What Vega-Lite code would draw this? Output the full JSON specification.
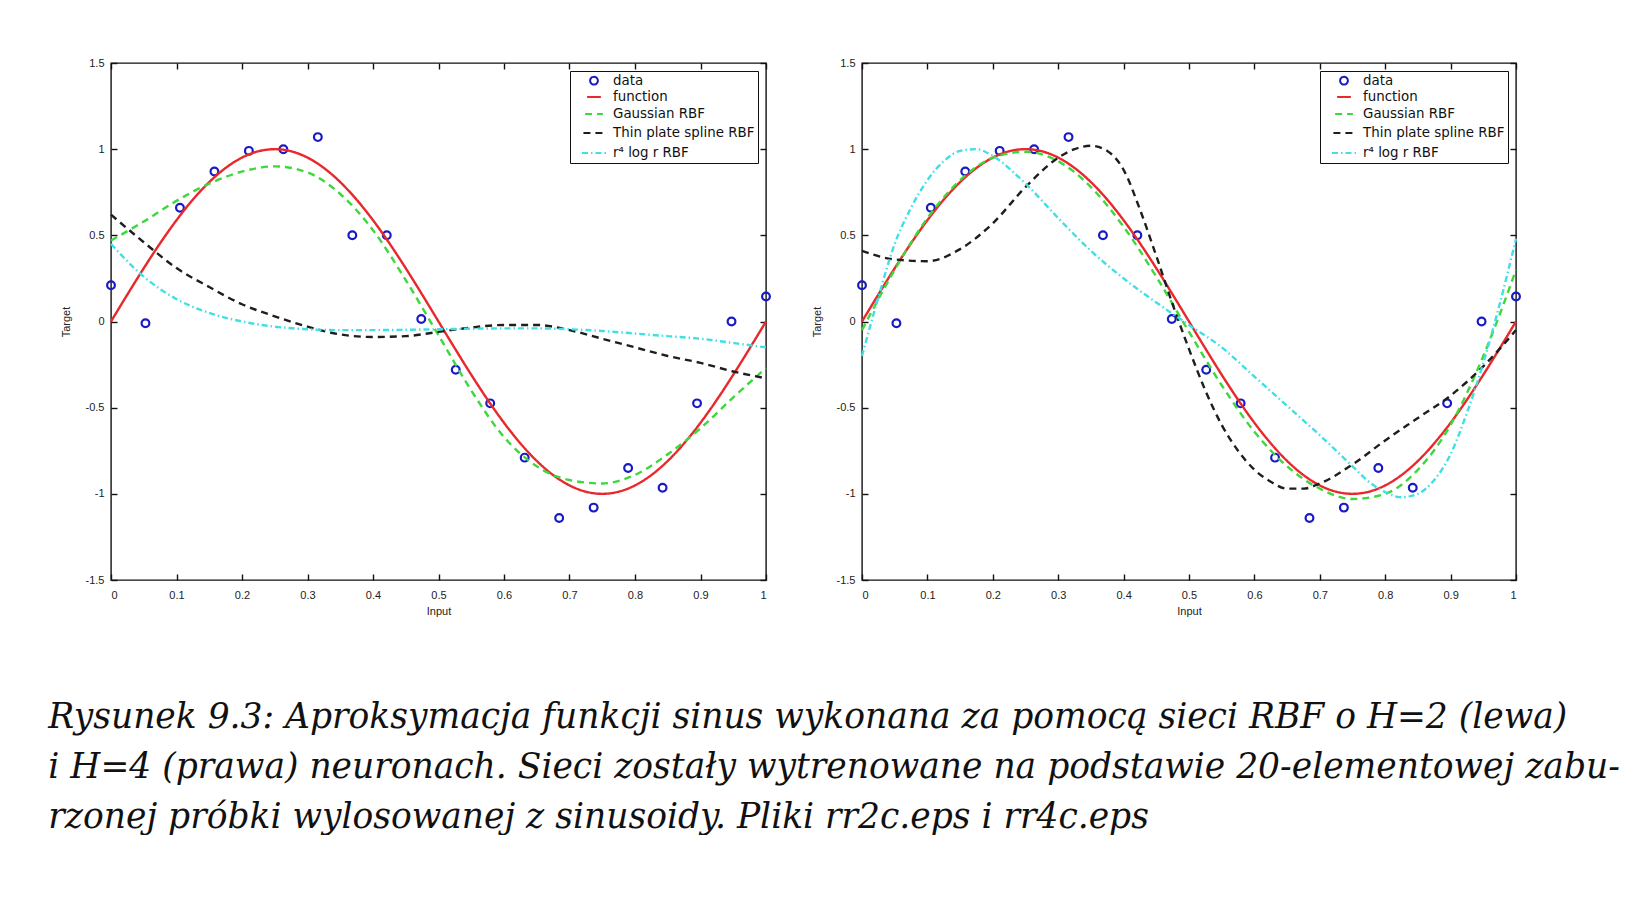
{
  "$schema": "https://vega.github.io/schema/vega-lite/v6.json",
  "background": "white",
  "padding": {"left": 48, "top": 56, "right": 0, "bottom": 0},
  "datasets": {
    "pts": [
      {"x": 0, "y": 0.21, "series": "data"},
      {"x": 0.05263, "y": -0.01, "series": "data"},
      {"x": 0.10526, "y": 0.66, "series": "data"},
      {"x": 0.15789, "y": 0.87, "series": "data"},
      {"x": 0.21053, "y": 0.99, "series": "data"},
      {"x": 0.26316, "y": 1.0, "series": "data"},
      {"x": 0.31579, "y": 1.07, "series": "data"},
      {"x": 0.36842, "y": 0.5, "series": "data"},
      {"x": 0.42105, "y": 0.5, "series": "data"},
      {"x": 0.47368, "y": 0.015, "series": "data"},
      {"x": 0.52632, "y": -0.28, "series": "data"},
      {"x": 0.57895, "y": -0.475, "series": "data"},
      {"x": 0.63158, "y": -0.79, "series": "data"},
      {"x": 0.68421, "y": -1.14, "series": "data"},
      {"x": 0.73684, "y": -1.08, "series": "data"},
      {"x": 0.78947, "y": -0.85, "series": "data"},
      {"x": 0.84211, "y": -0.965, "series": "data"},
      {"x": 0.89474, "y": -0.475, "series": "data"},
      {"x": 0.94737, "y": 0.0, "series": "data"},
      {"x": 1, "y": 0.145, "series": "data"}
    ],
    "fn": [
      {"x": 0, "y": 0, "series": "function"},
      {"x": 0.025, "y": 0.1564, "series": "function"},
      {"x": 0.05, "y": 0.309, "series": "function"},
      {"x": 0.075, "y": 0.454, "series": "function"},
      {"x": 0.1, "y": 0.5878, "series": "function"},
      {"x": 0.125, "y": 0.7071, "series": "function"},
      {"x": 0.15, "y": 0.809, "series": "function"},
      {"x": 0.175, "y": 0.891, "series": "function"},
      {"x": 0.2, "y": 0.9511, "series": "function"},
      {"x": 0.225, "y": 0.9877, "series": "function"},
      {"x": 0.25, "y": 1, "series": "function"},
      {"x": 0.275, "y": 0.9877, "series": "function"},
      {"x": 0.3, "y": 0.9511, "series": "function"},
      {"x": 0.325, "y": 0.891, "series": "function"},
      {"x": 0.35, "y": 0.809, "series": "function"},
      {"x": 0.375, "y": 0.7071, "series": "function"},
      {"x": 0.4, "y": 0.5878, "series": "function"},
      {"x": 0.425, "y": 0.454, "series": "function"},
      {"x": 0.45, "y": 0.309, "series": "function"},
      {"x": 0.475, "y": 0.1564, "series": "function"},
      {"x": 0.5, "y": 0, "series": "function"},
      {"x": 0.525, "y": -0.1564, "series": "function"},
      {"x": 0.55, "y": -0.309, "series": "function"},
      {"x": 0.575, "y": -0.454, "series": "function"},
      {"x": 0.6, "y": -0.5878, "series": "function"},
      {"x": 0.625, "y": -0.7071, "series": "function"},
      {"x": 0.65, "y": -0.809, "series": "function"},
      {"x": 0.675, "y": -0.891, "series": "function"},
      {"x": 0.7, "y": -0.9511, "series": "function"},
      {"x": 0.725, "y": -0.9877, "series": "function"},
      {"x": 0.75, "y": -1, "series": "function"},
      {"x": 0.775, "y": -0.9877, "series": "function"},
      {"x": 0.8, "y": -0.9511, "series": "function"},
      {"x": 0.825, "y": -0.891, "series": "function"},
      {"x": 0.85, "y": -0.809, "series": "function"},
      {"x": 0.875, "y": -0.7071, "series": "function"},
      {"x": 0.9, "y": -0.5878, "series": "function"},
      {"x": 0.925, "y": -0.454, "series": "function"},
      {"x": 0.95, "y": -0.309, "series": "function"},
      {"x": 0.975, "y": -0.1564, "series": "function"},
      {"x": 1, "y": 0, "series": "function"}
    ],
    "h2": [
      {"x": 0, "y": 0.47, "series": "Gaussian RBF"},
      {"x": 0.05, "y": 0.58, "series": "Gaussian RBF"},
      {"x": 0.1, "y": 0.7, "series": "Gaussian RBF"},
      {"x": 0.15, "y": 0.8, "series": "Gaussian RBF"},
      {"x": 0.2, "y": 0.87, "series": "Gaussian RBF"},
      {"x": 0.25, "y": 0.9, "series": "Gaussian RBF"},
      {"x": 0.3, "y": 0.865, "series": "Gaussian RBF"},
      {"x": 0.35, "y": 0.74, "series": "Gaussian RBF"},
      {"x": 0.4, "y": 0.53, "series": "Gaussian RBF"},
      {"x": 0.45, "y": 0.24, "series": "Gaussian RBF"},
      {"x": 0.5, "y": -0.08, "series": "Gaussian RBF"},
      {"x": 0.55, "y": -0.4, "series": "Gaussian RBF"},
      {"x": 0.6, "y": -0.67, "series": "Gaussian RBF"},
      {"x": 0.65, "y": -0.84, "series": "Gaussian RBF"},
      {"x": 0.7, "y": -0.92, "series": "Gaussian RBF"},
      {"x": 0.75, "y": -0.94, "series": "Gaussian RBF"},
      {"x": 0.8, "y": -0.89, "series": "Gaussian RBF"},
      {"x": 0.85, "y": -0.77, "series": "Gaussian RBF"},
      {"x": 0.9, "y": -0.62, "series": "Gaussian RBF"},
      {"x": 0.95, "y": -0.44, "series": "Gaussian RBF"},
      {"x": 1, "y": -0.27, "series": "Gaussian RBF"},
      {"x": 0, "y": 0.62, "series": "Thin plate spline RBF"},
      {"x": 0.05, "y": 0.46, "series": "Thin plate spline RBF"},
      {"x": 0.1, "y": 0.31, "series": "Thin plate spline RBF"},
      {"x": 0.15, "y": 0.2, "series": "Thin plate spline RBF"},
      {"x": 0.2, "y": 0.1, "series": "Thin plate spline RBF"},
      {"x": 0.25, "y": 0.03, "series": "Thin plate spline RBF"},
      {"x": 0.3, "y": -0.03, "series": "Thin plate spline RBF"},
      {"x": 0.35, "y": -0.075, "series": "Thin plate spline RBF"},
      {"x": 0.4, "y": -0.09, "series": "Thin plate spline RBF"},
      {"x": 0.45, "y": -0.085, "series": "Thin plate spline RBF"},
      {"x": 0.5, "y": -0.06, "series": "Thin plate spline RBF"},
      {"x": 0.55, "y": -0.035, "series": "Thin plate spline RBF"},
      {"x": 0.6, "y": -0.02, "series": "Thin plate spline RBF"},
      {"x": 0.65, "y": -0.02, "series": "Thin plate spline RBF"},
      {"x": 0.7, "y": -0.05, "series": "Thin plate spline RBF"},
      {"x": 0.75, "y": -0.1, "series": "Thin plate spline RBF"},
      {"x": 0.8, "y": -0.15, "series": "Thin plate spline RBF"},
      {"x": 0.85, "y": -0.2, "series": "Thin plate spline RBF"},
      {"x": 0.9, "y": -0.24, "series": "Thin plate spline RBF"},
      {"x": 0.95, "y": -0.29, "series": "Thin plate spline RBF"},
      {"x": 1, "y": -0.33, "series": "Thin plate spline RBF"},
      {"x": 0, "y": 0.45, "series": "r⁴ log r RBF"},
      {"x": 0.05, "y": 0.26, "series": "r⁴ log r RBF"},
      {"x": 0.1, "y": 0.13, "series": "r⁴ log r RBF"},
      {"x": 0.15, "y": 0.05, "series": "r⁴ log r RBF"},
      {"x": 0.2, "y": 0.0, "series": "r⁴ log r RBF"},
      {"x": 0.25, "y": -0.03, "series": "r⁴ log r RBF"},
      {"x": 0.3, "y": -0.045, "series": "r⁴ log r RBF"},
      {"x": 0.35, "y": -0.05, "series": "r⁴ log r RBF"},
      {"x": 0.4, "y": -0.05, "series": "r⁴ log r RBF"},
      {"x": 0.45, "y": -0.048, "series": "r⁴ log r RBF"},
      {"x": 0.5, "y": -0.045, "series": "r⁴ log r RBF"},
      {"x": 0.55, "y": -0.042, "series": "r⁴ log r RBF"},
      {"x": 0.6, "y": -0.04, "series": "r⁴ log r RBF"},
      {"x": 0.65, "y": -0.04, "series": "r⁴ log r RBF"},
      {"x": 0.7, "y": -0.045, "series": "r⁴ log r RBF"},
      {"x": 0.75, "y": -0.055, "series": "r⁴ log r RBF"},
      {"x": 0.8, "y": -0.07, "series": "r⁴ log r RBF"},
      {"x": 0.85, "y": -0.085, "series": "r⁴ log r RBF"},
      {"x": 0.9, "y": -0.1, "series": "r⁴ log r RBF"},
      {"x": 0.95, "y": -0.125, "series": "r⁴ log r RBF"},
      {"x": 1, "y": -0.15, "series": "r⁴ log r RBF"}
    ],
    "h4": [
      {"x": 0, "y": -0.05, "series": "Gaussian RBF"},
      {"x": 0.025, "y": 0.13, "series": "Gaussian RBF"},
      {"x": 0.05, "y": 0.3, "series": "Gaussian RBF"},
      {"x": 0.1, "y": 0.6, "series": "Gaussian RBF"},
      {"x": 0.15, "y": 0.82, "series": "Gaussian RBF"},
      {"x": 0.2, "y": 0.95, "series": "Gaussian RBF"},
      {"x": 0.25, "y": 0.985, "series": "Gaussian RBF"},
      {"x": 0.3, "y": 0.93, "series": "Gaussian RBF"},
      {"x": 0.35, "y": 0.78, "series": "Gaussian RBF"},
      {"x": 0.4, "y": 0.55, "series": "Gaussian RBF"},
      {"x": 0.45, "y": 0.26, "series": "Gaussian RBF"},
      {"x": 0.5, "y": -0.06, "series": "Gaussian RBF"},
      {"x": 0.55, "y": -0.37, "series": "Gaussian RBF"},
      {"x": 0.6, "y": -0.64, "series": "Gaussian RBF"},
      {"x": 0.65, "y": -0.84, "series": "Gaussian RBF"},
      {"x": 0.7, "y": -0.97, "series": "Gaussian RBF"},
      {"x": 0.75, "y": -1.03, "series": "Gaussian RBF"},
      {"x": 0.8, "y": -1.0, "series": "Gaussian RBF"},
      {"x": 0.85, "y": -0.86, "series": "Gaussian RBF"},
      {"x": 0.9, "y": -0.6, "series": "Gaussian RBF"},
      {"x": 0.95, "y": -0.2, "series": "Gaussian RBF"},
      {"x": 0.975, "y": 0.04, "series": "Gaussian RBF"},
      {"x": 1, "y": 0.3, "series": "Gaussian RBF"},
      {"x": 0, "y": 0.41, "series": "Thin plate spline RBF"},
      {"x": 0.05, "y": 0.36, "series": "Thin plate spline RBF"},
      {"x": 0.1, "y": 0.35, "series": "Thin plate spline RBF"},
      {"x": 0.15, "y": 0.42, "series": "Thin plate spline RBF"},
      {"x": 0.2, "y": 0.57, "series": "Thin plate spline RBF"},
      {"x": 0.25, "y": 0.78, "series": "Thin plate spline RBF"},
      {"x": 0.3, "y": 0.95, "series": "Thin plate spline RBF"},
      {"x": 0.325, "y": 1.0, "series": "Thin plate spline RBF"},
      {"x": 0.35, "y": 1.02, "series": "Thin plate spline RBF"},
      {"x": 0.375, "y": 0.99, "series": "Thin plate spline RBF"},
      {"x": 0.4, "y": 0.88, "series": "Thin plate spline RBF"},
      {"x": 0.425, "y": 0.65, "series": "Thin plate spline RBF"},
      {"x": 0.45, "y": 0.38, "series": "Thin plate spline RBF"},
      {"x": 0.475, "y": 0.1, "series": "Thin plate spline RBF"},
      {"x": 0.5, "y": -0.16, "series": "Thin plate spline RBF"},
      {"x": 0.525, "y": -0.4, "series": "Thin plate spline RBF"},
      {"x": 0.55, "y": -0.6, "series": "Thin plate spline RBF"},
      {"x": 0.575, "y": -0.75, "series": "Thin plate spline RBF"},
      {"x": 0.6, "y": -0.86, "series": "Thin plate spline RBF"},
      {"x": 0.625, "y": -0.93, "series": "Thin plate spline RBF"},
      {"x": 0.65, "y": -0.97, "series": "Thin plate spline RBF"},
      {"x": 0.675, "y": -0.97, "series": "Thin plate spline RBF"},
      {"x": 0.7, "y": -0.94, "series": "Thin plate spline RBF"},
      {"x": 0.75, "y": -0.83, "series": "Thin plate spline RBF"},
      {"x": 0.8, "y": -0.69, "series": "Thin plate spline RBF"},
      {"x": 0.85, "y": -0.56, "series": "Thin plate spline RBF"},
      {"x": 0.9, "y": -0.43, "series": "Thin plate spline RBF"},
      {"x": 0.95, "y": -0.26, "series": "Thin plate spline RBF"},
      {"x": 1, "y": -0.05, "series": "Thin plate spline RBF"},
      {"x": 0, "y": -0.2, "series": "r⁴ log r RBF"},
      {"x": 0.025, "y": 0.14, "series": "r⁴ log r RBF"},
      {"x": 0.05, "y": 0.45, "series": "r⁴ log r RBF"},
      {"x": 0.075, "y": 0.66, "series": "r⁴ log r RBF"},
      {"x": 0.1, "y": 0.82, "series": "r⁴ log r RBF"},
      {"x": 0.125, "y": 0.93, "series": "r⁴ log r RBF"},
      {"x": 0.15, "y": 0.99, "series": "r⁴ log r RBF"},
      {"x": 0.175, "y": 1.0, "series": "r⁴ log r RBF"},
      {"x": 0.2, "y": 0.96, "series": "r⁴ log r RBF"},
      {"x": 0.25, "y": 0.8, "series": "r⁴ log r RBF"},
      {"x": 0.3, "y": 0.6, "series": "r⁴ log r RBF"},
      {"x": 0.35, "y": 0.41, "series": "r⁴ log r RBF"},
      {"x": 0.4, "y": 0.25, "series": "r⁴ log r RBF"},
      {"x": 0.45, "y": 0.11, "series": "r⁴ log r RBF"},
      {"x": 0.5, "y": -0.02, "series": "r⁴ log r RBF"},
      {"x": 0.55, "y": -0.15, "series": "r⁴ log r RBF"},
      {"x": 0.6, "y": -0.32, "series": "r⁴ log r RBF"},
      {"x": 0.65, "y": -0.49, "series": "r⁴ log r RBF"},
      {"x": 0.7, "y": -0.66, "series": "r⁴ log r RBF"},
      {"x": 0.75, "y": -0.84, "series": "r⁴ log r RBF"},
      {"x": 0.775, "y": -0.93, "series": "r⁴ log r RBF"},
      {"x": 0.8, "y": -0.99, "series": "r⁴ log r RBF"},
      {"x": 0.825, "y": -1.02, "series": "r⁴ log r RBF"},
      {"x": 0.85, "y": -1.0, "series": "r⁴ log r RBF"},
      {"x": 0.875, "y": -0.92, "series": "r⁴ log r RBF"},
      {"x": 0.9, "y": -0.77, "series": "r⁴ log r RBF"},
      {"x": 0.925, "y": -0.53, "series": "r⁴ log r RBF"},
      {"x": 0.95, "y": -0.24, "series": "r⁴ log r RBF"},
      {"x": 0.975, "y": 0.1, "series": "r⁴ log r RBF"},
      {"x": 1, "y": 0.48, "series": "r⁴ log r RBF"}
    ]
  },
  "title": {
    "text": [
      "Rysunek 9.3: Aproksymacja funkcji sinus wykonana za pomocą sieci RBF o H=2 (lewa)",
      "i H=4 (prawa) neuronach. Sieci zostały wytrenowane na podstawie 20-elementowej zabu-",
      "rzonej próbki wylosowanej z sinusoidy. Pliki rr2c.eps i rr4c.eps"
    ],
    "orient": "bottom",
    "anchor": "start",
    "font": "DejaVu Serif",
    "fontSize": 34.5,
    "fontStyle": "italic",
    "fontWeight": "normal",
    "color": "#111111",
    "lineHeight": 50,
    "offset": 84,
    "dx": -11,
    "limit": 0
  },
  "spacing": 35,
  "resolve": {
    "scale": {"color": "independent", "strokeDash": "independent", "shape": "independent", "size": "independent"},
    "legend": {"color": "independent", "strokeDash": "independent", "shape": "independent", "size": "independent"}
  },
  "hconcat": [
    {
      "width": 655,
      "height": 517,
      "resolve": {"axis": {"x": "independent", "y": "independent"}},
      "layer": [
        {
          "data": {"name": "pts"},
          "mark": {"type": "point", "filled": false, "strokeWidth": 2.2, "opacity": 1},
          "encoding": {
            "x": {"field": "x", "type": "quantitative", "scale": {"domain": [0, 1], "nice": false, "zero": false},
                  "axis": {"orient": "bottom", "title": "Input", "values": [0, 0.1, 0.2, 0.3, 0.4, 0.5, 0.6, 0.7, 0.8, 0.9, 1]}},
            "y": {"field": "y", "type": "quantitative", "scale": {"domain": [-1.5, 1.5], "nice": false, "zero": false},
                  "axis": {"orient": "left", "title": "Target", "values": [-1.5, -1, -0.5, 0, 0.5, 1, 1.5]}},
            "color": {"field": "series", "type": "nominal",
                      "scale": {"domain": ["data", "function", "Gaussian RBF", "Thin plate spline RBF", "r⁴ log r RBF"],
                                "range": ["#1a1ac4", "#e8282c", "#3cd83c", "#1e1e1e", "#3fdfe6"]},
                      "legend": {"orient": "top-right", "offset": 8, "title": null, "fillColor": "white", "strokeColor": "#111111",
                                 "padding": 3, "rowPadding": -3.2, "labelFont": "DejaVu Sans", "labelFontSize": 13.4, "labelColor": "#111111",
                                 "symbolStrokeWidth": 2, "symbolOffset": 8, "labelOffset": 6, "symbolFillColor": "transparent"}},
            "shape": {"field": "series", "type": "nominal",
                      "scale": {"domain": ["data", "function", "Gaussian RBF", "Thin plate spline RBF", "r⁴ log r RBF"],
                                "range": ["circle", "stroke", "stroke", "stroke", "stroke"]}},
            "size": {"field": "series", "type": "nominal",
                     "scale": {"domain": ["data", "function", "Gaussian RBF", "Thin plate spline RBF", "r⁴ log r RBF"],
                               "range": [60, 576, 576, 576, 576]}}
          }
        },
        {
          "data": {"name": "fn"},
          "mark": {"type": "line", "strokeWidth": 2.4, "interpolate": "monotone"},
          "encoding": {
            "x": {"field": "x", "type": "quantitative", "scale": {"domain": [0, 1], "nice": false, "zero": false},
                  "axis": {"orient": "top", "labels": false, "title": null, "values": [0, 0.1, 0.2, 0.3, 0.4, 0.5, 0.6, 0.7, 0.8, 0.9, 1]}},
            "y": {"field": "y", "type": "quantitative", "scale": {"domain": [-1.5, 1.5], "nice": false, "zero": false},
                  "axis": {"orient": "right", "labels": false, "title": null, "values": [-1.5, -1, -0.5, 0, 0.5, 1, 1.5]}},
            "color": {"field": "series", "type": "nominal",
                      "scale": {"domain": ["data", "function", "Gaussian RBF", "Thin plate spline RBF", "r⁴ log r RBF"],
                                "range": ["#1a1ac4", "#e8282c", "#3cd83c", "#1e1e1e", "#3fdfe6"]}},
            "strokeDash": {"field": "series", "type": "nominal", "legend": null,
                           "scale": {"domain": ["data", "function", "Gaussian RBF", "Thin plate spline RBF", "r⁴ log r RBF"],
                                     "range": [[1, 0], [1, 0], [7, 5], [7, 5], [6, 3, 1.5, 3]]}}
          }
        },
        {
          "data": {"name": "h2"},
          "mark": {"type": "line", "strokeWidth": 2.4, "interpolate": "monotone"},
          "encoding": {
            "x": {"field": "x", "type": "quantitative", "scale": {"domain": [0, 1], "nice": false, "zero": false}, "axis": null},
            "y": {"field": "y", "type": "quantitative", "scale": {"domain": [-1.5, 1.5], "nice": false, "zero": false}, "axis": null},
            "color": {"field": "series", "type": "nominal",
                      "scale": {"domain": ["data", "function", "Gaussian RBF", "Thin plate spline RBF", "r⁴ log r RBF"],
                                "range": ["#1a1ac4", "#e8282c", "#3cd83c", "#1e1e1e", "#3fdfe6"]}},
            "strokeDash": {"field": "series", "type": "nominal", "legend": null,
                           "scale": {"domain": ["data", "function", "Gaussian RBF", "Thin plate spline RBF", "r⁴ log r RBF"],
                                     "range": [[1, 0], [1, 0], [7, 5], [7, 5], [6, 3, 1.5, 3]]}}
          }
        }
      ]
    },
    {
      "width": 654,
      "height": 517,
      "resolve": {"axis": {"x": "independent", "y": "independent"}},
      "layer": [
        {
          "data": {"name": "pts"},
          "mark": {"type": "point", "filled": false, "strokeWidth": 2.2, "opacity": 1},
          "encoding": {
            "x": {"field": "x", "type": "quantitative", "scale": {"domain": [0, 1], "nice": false, "zero": false},
                  "axis": {"orient": "bottom", "title": "Input", "values": [0, 0.1, 0.2, 0.3, 0.4, 0.5, 0.6, 0.7, 0.8, 0.9, 1]}},
            "y": {"field": "y", "type": "quantitative", "scale": {"domain": [-1.5, 1.5], "nice": false, "zero": false},
                  "axis": {"orient": "left", "title": "Target", "values": [-1.5, -1, -0.5, 0, 0.5, 1, 1.5]}},
            "color": {"field": "series", "type": "nominal",
                      "scale": {"domain": ["data", "function", "Gaussian RBF", "Thin plate spline RBF", "r⁴ log r RBF"],
                                "range": ["#1a1ac4", "#e8282c", "#3cd83c", "#1e1e1e", "#3fdfe6"]},
                      "legend": {"orient": "top-right", "offset": 8, "title": null, "fillColor": "white", "strokeColor": "#111111",
                                 "padding": 3, "rowPadding": -3.2, "labelFont": "DejaVu Sans", "labelFontSize": 13.4, "labelColor": "#111111",
                                 "symbolStrokeWidth": 2, "symbolOffset": 8, "labelOffset": 6, "symbolFillColor": "transparent"}},
            "shape": {"field": "series", "type": "nominal",
                      "scale": {"domain": ["data", "function", "Gaussian RBF", "Thin plate spline RBF", "r⁴ log r RBF"],
                                "range": ["circle", "stroke", "stroke", "stroke", "stroke"]}},
            "size": {"field": "series", "type": "nominal",
                     "scale": {"domain": ["data", "function", "Gaussian RBF", "Thin plate spline RBF", "r⁴ log r RBF"],
                               "range": [60, 576, 576, 576, 576]}}
          }
        },
        {
          "data": {"name": "fn"},
          "mark": {"type": "line", "strokeWidth": 2.4, "interpolate": "monotone"},
          "encoding": {
            "x": {"field": "x", "type": "quantitative", "scale": {"domain": [0, 1], "nice": false, "zero": false},
                  "axis": {"orient": "top", "labels": false, "title": null, "values": [0, 0.1, 0.2, 0.3, 0.4, 0.5, 0.6, 0.7, 0.8, 0.9, 1]}},
            "y": {"field": "y", "type": "quantitative", "scale": {"domain": [-1.5, 1.5], "nice": false, "zero": false},
                  "axis": {"orient": "right", "labels": false, "title": null, "values": [-1.5, -1, -0.5, 0, 0.5, 1, 1.5]}},
            "color": {"field": "series", "type": "nominal",
                      "scale": {"domain": ["data", "function", "Gaussian RBF", "Thin plate spline RBF", "r⁴ log r RBF"],
                                "range": ["#1a1ac4", "#e8282c", "#3cd83c", "#1e1e1e", "#3fdfe6"]}},
            "strokeDash": {"field": "series", "type": "nominal", "legend": null,
                           "scale": {"domain": ["data", "function", "Gaussian RBF", "Thin plate spline RBF", "r⁴ log r RBF"],
                                     "range": [[1, 0], [1, 0], [7, 5], [7, 5], [6, 3, 1.5, 3]]}}
          }
        },
        {
          "data": {"name": "h4"},
          "mark": {"type": "line", "strokeWidth": 2.4, "interpolate": "monotone"},
          "encoding": {
            "x": {"field": "x", "type": "quantitative", "scale": {"domain": [0, 1], "nice": false, "zero": false}, "axis": null},
            "y": {"field": "y", "type": "quantitative", "scale": {"domain": [-1.5, 1.5], "nice": false, "zero": false}, "axis": null},
            "color": {"field": "series", "type": "nominal",
                      "scale": {"domain": ["data", "function", "Gaussian RBF", "Thin plate spline RBF", "r⁴ log r RBF"],
                                "range": ["#1a1ac4", "#e8282c", "#3cd83c", "#1e1e1e", "#3fdfe6"]}},
            "strokeDash": {"field": "series", "type": "nominal", "legend": null,
                           "scale": {"domain": ["data", "function", "Gaussian RBF", "Thin plate spline RBF", "r⁴ log r RBF"],
                                     "range": [[1, 0], [1, 0], [7, 5], [7, 5], [6, 3, 1.5, 3]]}}
          }
        }
      ]
    }
  ],
  "config": {
    "font": "Liberation Sans",
    "view": {"stroke": "#111111", "strokeWidth": 1.4},
    "axis": {
      "domain": false,
      "grid": false,
      "tickColor": "#111111",
      "tickSize": -6,
      "tickWidth": 1.4,
      "labelFont": "Liberation Sans",
      "labelFontSize": 11,
      "labelColor": "#222222",
      "labelExpr": "replace(format(datum.value, '~g'), '−', '-')",
      "titleFont": "Liberation Sans",
      "titleFontSize": 11,
      "titleFontWeight": "normal",
      "titleColor": "#222222"
    },
    "axisX": {"labelPadding": 15, "titlePadding": 5},
    "axisY": {"labelPadding": 13, "titlePadding": 14}
  }
}
